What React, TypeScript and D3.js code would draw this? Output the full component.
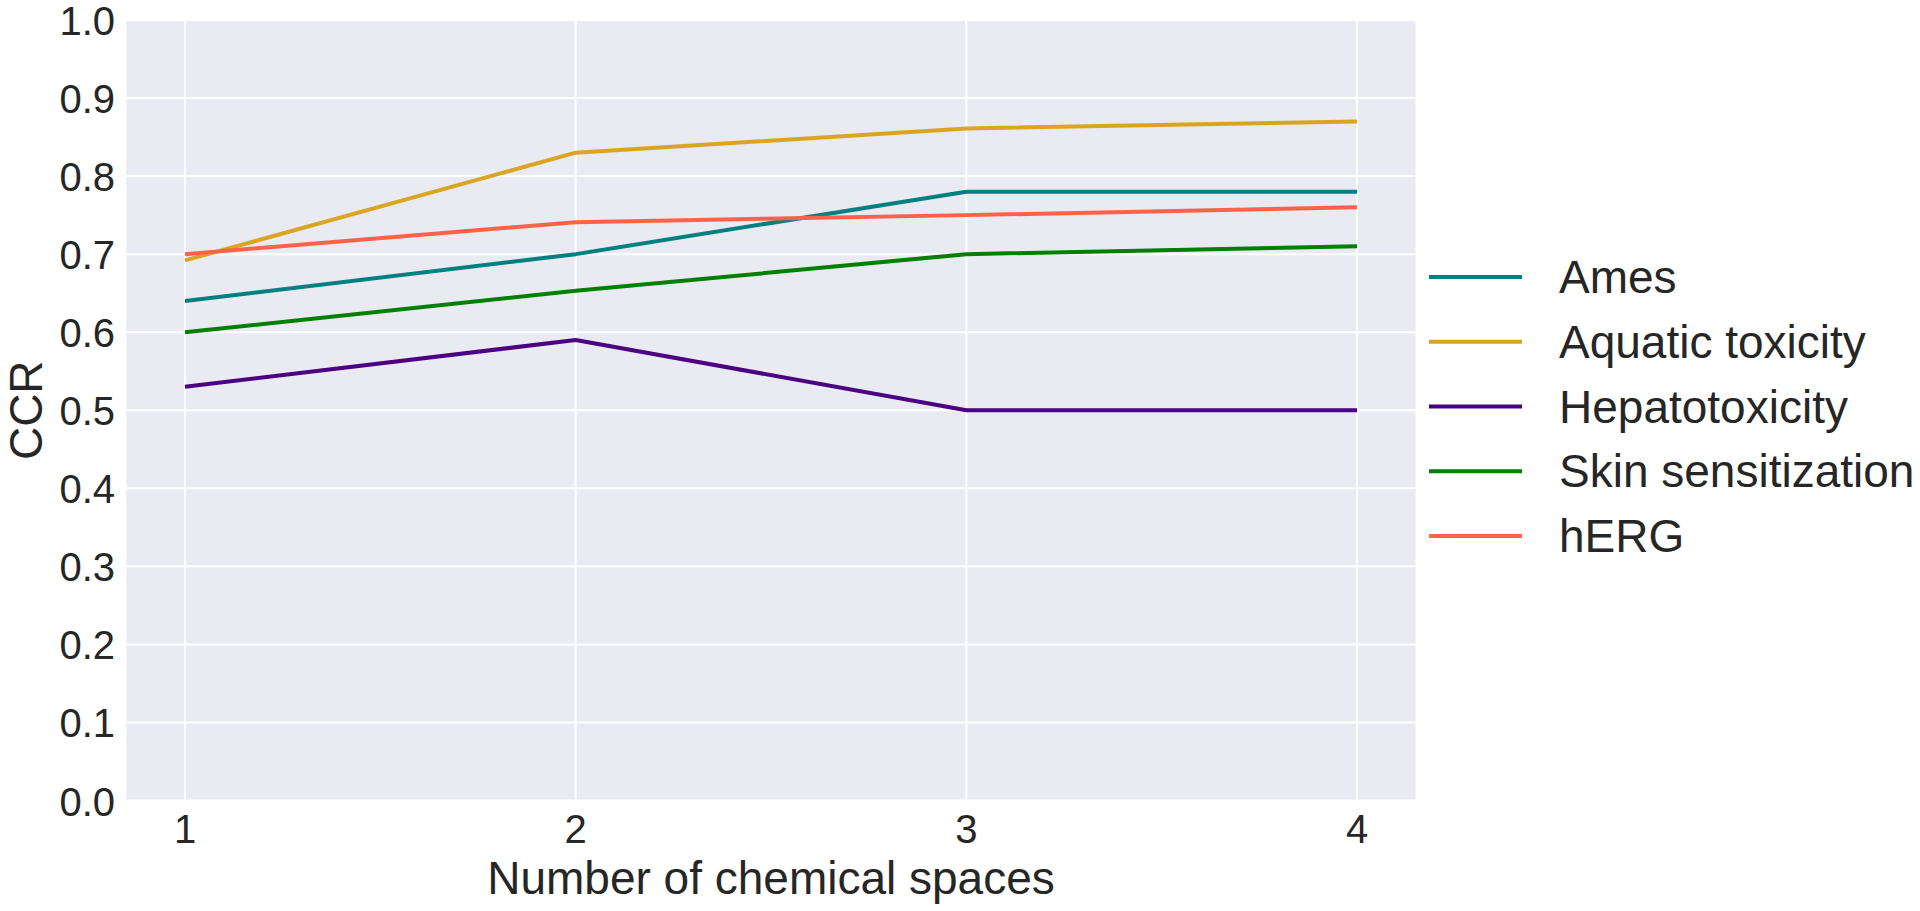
import React from "react";
import * as d3 from "d3";

const xValues = [1, 2, 3, 4];
const seriesNames = ["Ames", "Aquatic toxicity", "Hepatotoxicity", "Skin sensitization", "hERG"];
const amesValues = [0.64, 0.70, 0.78, 0.78];
const aquaticValues = [0.692, 0.83, 0.861, 0.87];
const hepatoValues = [0.53, 0.59, 0.50, 0.50];
const skinValues = [0.60, 0.653, 0.70, 0.71];
const hergValues = [0.70, 0.741, 0.75, 0.76];
const seriesColors = ["#008080", "#DAA520", "#4B0082", "#008000", "#FF6347"];
const yTicks = [0.0, 0.1, 0.2, 0.3, 0.4, 0.5, 0.6, 0.7, 0.8, 0.9, 1.0];
const xTicks = [1, 2, 3, 4];

const W = 1920;
const H = 911;
const FONT = "'Liberation Sans', Arial, Helvetica, sans-serif";
const TEXT = "#262626";

export default function App() {
  const allSeries = [amesValues, aquaticValues, hepatoValues, skinValues, hergValues];
  const x = d3.scaleLinear().domain([0.85, 4.15]).range([126.4, 1415.6]);
  const y = d3.scaleLinear().domain([0, 1]).range([800.5, 20]);
  const line = d3
    .line<number>()
    .x((_, i) => x(xValues[i]))
    .y((d) => y(d));

  const [x0, x1] = x.range();
  const [yb, yt] = y.range();

  const legendX1 = 1429;
  const legendX2 = 1522;
  const legendTextX = 1559;
  const legendY0 = 277;
  const legendStep = 64.75;

  return (
    <div style={{ position: "absolute", left: 0, top: 0 }}>
      <svg width={W} height={H} style={{ display: "block", background: "#ffffff" }}>
        <rect x={x0} y={yt} width={x1 - x0} height={yb - yt} fill="#EAEAF2" />
        {yTicks.map((t) => (
          <line key={"gy" + t} x1={x0} x2={x1} y1={y(t)} y2={y(t)} stroke="#ffffff" strokeWidth={2} />
        ))}
        {xTicks.map((t) => (
          <line key={"gx" + t} x1={x(t)} x2={x(t)} y1={yt} y2={yb} stroke="#ffffff" strokeWidth={2} />
        ))}
        {allSeries.map((s, i) => (
          <path
            key={seriesNames[i]}
            d={line(s) || ""}
            fill="none"
            stroke={seriesColors[i]}
            strokeWidth={4}
            strokeLinejoin="round"
            strokeLinecap="butt"
          />
        ))}
        {yTicks.map((t) => (
          <text
            key={"ty" + t}
            x={115}
            y={y(t) + 15}
            textAnchor="end"
            fontFamily={FONT}
            fontSize={40}
            fill={TEXT}
          >
            {t.toFixed(1)}
          </text>
        ))}
        {xTicks.map((t) => (
          <text
            key={"tx" + t}
            x={x(t)}
            y={yb + 42}
            textAnchor="middle"
            fontFamily={FONT}
            fontSize={40}
            fill={TEXT}
          >
            {t}
          </text>
        ))}
        <text
          x={(x0 + x1) / 2}
          y={894}
          textAnchor="middle"
          fontFamily={FONT}
          fontSize={46}
          fill={TEXT}
        >
          Number of chemical spaces
        </text>
        <text
          transform={`translate(42, ${(yt + yb) / 2}) rotate(-90)`}
          textAnchor="middle"
          fontFamily={FONT}
          fontSize={46}
          fill={TEXT}
        >
          CCR
        </text>
        {seriesNames.map((name, i) => {
          const cy = legendY0 + i * legendStep;
          return (
            <g key={"lg" + name}>
              <line x1={legendX1} x2={legendX2} y1={cy} y2={cy} stroke={seriesColors[i]} strokeWidth={4} />
              <text x={legendTextX} y={cy + 16} fontFamily={FONT} fontSize={46} fill={TEXT}>
                {name}
              </text>
            </g>
          );
        })}
      </svg>
    </div>
  );
}
